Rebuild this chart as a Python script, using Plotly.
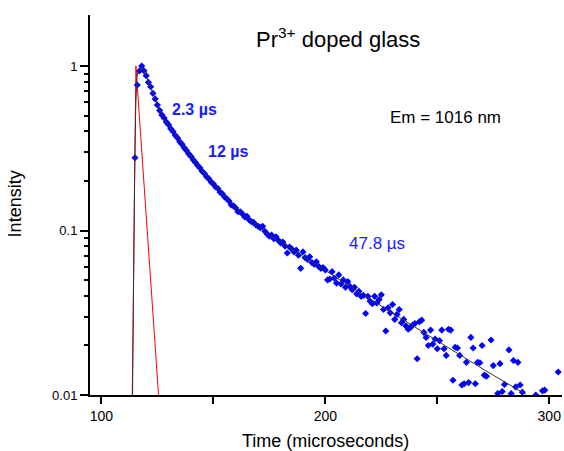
import plotly.graph_objects as go

# ---- data ----
data_time = [115,116,117,118,119,120,121,122,123,124,125,126,127,128,129,130,
             131,132,133,134,135,136,137,138,139,140,141,142,143,144,145,146,147,148,149,150,
             151,152,153,154,155,156,157,158,159,160,161,162,163,164,165,166,167,168,169,170,
             171,172,173,174,175,176,177,178,179,180,181,182,183,184,185,186,187,188,189,190,
             191,192,193,194,195,196,197,198,199,200,201,202,203,204,205,206,207,208,209,210,
             211,212,213,214,215,216,217,218,219,220,221,222,223,224,225,226,227,228,229,230,
             231,232,233,234,235,236,237,238,239,240,241,242,243,244,245,246,247,248,249,250,
             251,252,253,254,255,256,257,258,259,260,261,262,263,264,265,266,267,268,269,270,
             271,272,274,275,277,278,279,280,282,283,284,285,286,287,288,294,297,298,304]
data_intensity = [0.277,0.766,0.933,1.000,0.936,0.873,0.796,0.748,0.682,0.631,0.579,0.537,0.504,0.483,0.456,0.439,
                  0.415,0.400,0.379,0.365,0.346,0.334,0.318,0.306,0.292,0.282,0.269,0.259,0.248,0.240,0.229,0.222,0.212,0.206,0.197,0.192,
                  0.184,0.180,0.171,0.167,0.160,0.156,0.151,0.143,0.141,0.137,0.130,0.130,0.126,0.121,0.122,0.116,0.113,0.112,0.108,0.106,
                  0.104,0.106,0.0989,0.0951,0.0923,0.0938,0.0891,0.0916,0.0871,0.0841,0.0851,0.0804,0.0730,0.0794,0.0773,0.0741,0.0759,0.0708,0.0589,0.0741,
                  0.0684,0.0668,0.0692,0.0638,0.0624,0.0646,0.0605,0.0589,0.0596,0.0575,0.0501,0.0507,0.0562,0.0513,0.0479,0.0537,0.0473,0.0501,0.0452,0.0490,
                  0.0457,0.0437,0.0452,0.0412,0.0427,0.0398,0.0403,0.0313,0.0398,0.0372,0.0359,0.0398,0.0363,0.0380,0.0407,0.0331,0.0245,0.0339,0.0316,0.0355,
                  0.0288,0.0309,0.0331,0.0275,0.0288,0.0263,0.0251,0.0257,0.0266,0.0272,0.0166,0.0279,0.0285,0.0240,0.0224,0.0200,0.0248,0.0204,0.0219,0.0191,
                  0.0214,0.0248,0.0191,0.0174,0.0251,0.0248,0.0123,0.0195,0.0193,0.0174,0.0115,0.0117,0.0158,0.0119,0.0224,0.0193,0.0117,0.0158,0.0157,0.0200,
                  0.0132,0.0130,0.0216,0.0151,0.0102,0.0155,0.0105,0.0116,0.0188,0.0102,0.0162,0.0112,0.0158,0.0115,0.0104,0.0100,0.0106,0.0107,0.0138]

fit_time = [113.9,114.3,114.8,115.3,115.8,116.5,117.5,118.3,119,120,122,124,126,128,130,133,136,140,144,148,
            152,156,160,165,170,175,180,185,190,195,200,205,210,215,220,225,230,235,240,245,250,255,260,265,
            270,275,280,285,289.5]
fit_intensity = [0.01,0.05,0.2,0.55,0.85,0.95,0.97,0.96,0.93,0.87,0.74,0.63,0.54,0.48,0.44,0.38,0.333,0.283,0.24,0.206,
                 0.18,0.157,0.138,0.121,0.106,0.0935,0.0852,0.0775,0.0695,0.0632,0.0572,0.0515,0.0466,0.0422,0.0383,0.0347,0.0315,0.0286,0.0259,0.0235,
                 0.0213,0.0194,0.0176,0.016,0.0145,0.0132,0.012,0.0109,0.0101]

irf_time = [113.7,115.4,126.0]
irf_intensity = [0.008,1.0,0.008]

x_tickvals = [100,200,300]
x_ticktext = ["100","200","300"]
x_minor = [150,250]
y_tickvals = [0.01,0.1,1]
y_ticktext = ["0.01","0.1","1"]
y_minor = [0.02,0.03,0.04,0.05,0.06,0.07,0.08,0.09,0.2,0.3,0.4,0.5,0.6,0.7,0.8,0.9]

FONT = "Arial, Liberation Sans, sans-serif"

fig = go.Figure()
fig.add_trace(go.Scatter(x=irf_time, y=irf_intensity, mode="lines",
                         line=dict(color="#ff0000", width=1), hoverinfo="skip"))
fig.add_trace(go.Scatter(x=data_time, y=data_intensity, mode="markers",
                         marker=dict(symbol="diamond", size=5.5, color="#0000ff", line=dict(width=0))))
fig.add_trace(go.Scatter(x=fit_time, y=fit_intensity, mode="lines",
                         line=dict(color="#333333", width=1)))

fig.update_layout(
    width=564, height=451,
    margin=dict(l=90, r=2, t=15, b=56),
    paper_bgcolor="white", plot_bgcolor="white",
    showlegend=False,
    font=dict(family=FONT, color="black"),
)
fig.update_xaxes(range=[94.9, 305.7], showgrid=False, zeroline=False,
                 showline=True, linecolor="black", linewidth=2,
                 ticks="outside", ticklen=7, tickwidth=2, tickcolor="black",
                 tickvals=x_tickvals, ticktext=x_ticktext,
                 tickfont=dict(size=14, family=FONT, color="black"),
                 minor=dict(tickvals=x_minor, ticks="outside", ticklen=7, tickwidth=2, tickcolor="black"))
fig.update_yaxes(type="log", range=[-2, 0.31], showgrid=False, zeroline=False,
                 showline=True, linecolor="black", linewidth=2,
                 ticks="outside", ticklen=8, tickwidth=2, tickcolor="black",
                 tickvals=y_tickvals, ticktext=y_ticktext,
                 tickfont=dict(size=13, family=FONT, color="black"),
                 minor=dict(tickvals=y_minor, ticks="outside", ticklen=4, tickwidth=1.5, tickcolor="black"))

ann = [
    dict(x=205.7, y=0.17, text="Pr<sup>3+</sup> doped glass", font=dict(size=22, color="black")),
    dict(x=253.6, y=-0.316, text="Em = 1016 nm", font=dict(size=17, color="black")),
    dict(x=141.5, y=-0.267, text="<b>2.3 µs</b>", font=dict(size=16, color="#1a1aff")),
    dict(x=156.7, y=-0.517, text="<b>12 µs</b>", font=dict(size=16, color="#1a1aff")),
    dict(x=223.0, y=-1.082, text="47.8 µs", font=dict(size=17, color="#1a1aff")),
]
for a in ann:
    fig.add_annotation(xref="x", yref="y", showarrow=False, xanchor="center", yanchor="middle",
                       font_family=FONT, **a)
fig.add_annotation(xref="paper", yref="paper", x=0.498, y=-0.121, text="Time (microseconds)",
                   showarrow=False, xanchor="center", yanchor="middle", font=dict(size=18, family=FONT, color="black"))
fig.add_annotation(xref="paper", yref="paper", x=-0.157, y=0.504, text="Intensity", textangle=-90,
                   showarrow=False, xanchor="center", yanchor="middle", font=dict(size=18, family=FONT, color="black"))

fig.write_html("out.html", config={"displayModeBar": False},
               post_script="document.body.style.margin='0';document.body.style.overflow='hidden';")
